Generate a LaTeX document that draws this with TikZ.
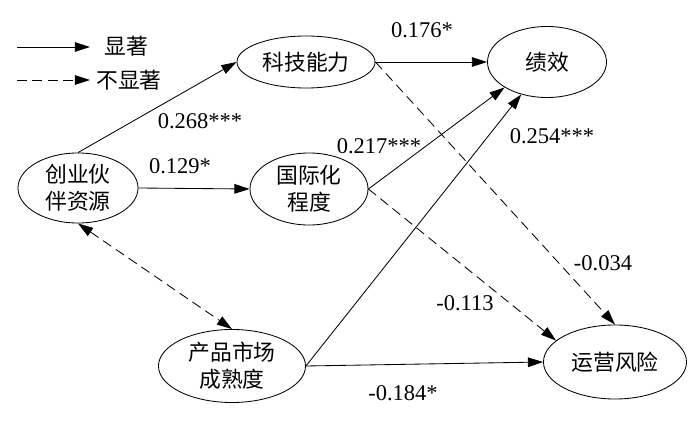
\documentclass[tikz,border=0pt]{standalone}
\usepackage{fontspec}
\setmainfont{Liberation Serif}
\newfontfamily\cjk{Noto Sans CJK SC}
\usetikzlibrary{arrows.meta,shapes.geometric}

\tikzset{
  var/.style={ellipse, draw, line width=0.6pt, inner sep=0pt, align=center, font=\cjk\fontsize{15.5}{19}\selectfont},
  coef/.style={inner sep=0pt, font=\fontsize{16}{19}\selectfont},
  legtext/.style={inner sep=0pt, anchor=west, font=\cjk\fontsize{15.5}{19}\selectfont},
  sig/.style={->, line width=0.6pt},
  nsig/.style={sig, dash pattern=on 7pt off 4pt},
}

\begin{document}
\begin{tikzpicture}[x=0.025cm, y=-0.025cm, >={Triangle[length=3.8mm,width=2.4mm]}]
    \useasboundingbox (0,0) rectangle (700,421);

    % Legend
    \coordinate (S1) at (17,47);
    \coordinate (S2) at (90,47);
    \coordinate (N1) at (17,80);
    \coordinate (N2) at (90,80);
    \node[legtext] (SIG) at (104,46) {显著};
    \node[legtext] (NSIG) at (96,80) {不显著};
    \draw[sig] (S1) -- (S2);
    \draw[nsig] (N1) -- (N2);

    % Variables
    \node[var, minimum width=3.45cm, minimum height=1.3cm] (KJ) at (306,62) {科技能力};
    \node[var, minimum width=2.975cm, minimum height=1.775cm] (JX) at (547,62) {绩效};
    \node[var, minimum width=3cm, minimum height=1.75cm] (CY) at (78,188) {创业伙\\伴资源};
    \node[var, minimum width=2.95cm, minimum height=1.8cm] (GJ) at (309,189) {国际化\\程度};
    \node[var, minimum width=3.675cm, minimum height=1.825cm] (CP) at (232,366) {产品市场\\成熟度};
    \node[var, minimum width=3.575cm, minimum height=1.85cm] (YY) at (615,362) {运营风险};

    % Paths
    \draw[sig] (CY.north) -- (KJ.west);
    \draw[sig] (CY.east) -- (GJ.west);
    \draw[sig] (KJ.east) -- (JX.west);
    \draw[sig] (GJ.east) -- (JX.south west);
    \draw[sig] (CP.east) -- (JX);
    \draw[sig] (CP.east) -- (YY.west);
    \draw[nsig] (KJ.east) -- (YY.north);
    \draw[nsig] (GJ.east) -- (YY.160);
    \draw[nsig, <->] (CY.south) -- (CP.north);

    % Coefficients
    \node[coef] (c1) at (200,121) {0.268***};
    \node[coef] (c2) at (180,166) {0.129*};
    \node[coef] (c3) at (422,30) {0.176*};
    \node[coef] (c4) at (379,146) {0.217***};
    \node[coef] (c5) at (552,136) {0.254***};
    \node[coef] (c6) at (603,263) {-0.034};
    \node[coef] (c7) at (465,303) {-0.113};
    \node[coef] (c8) at (403,393) {-0.184*};
\end{tikzpicture}
\end{document}
